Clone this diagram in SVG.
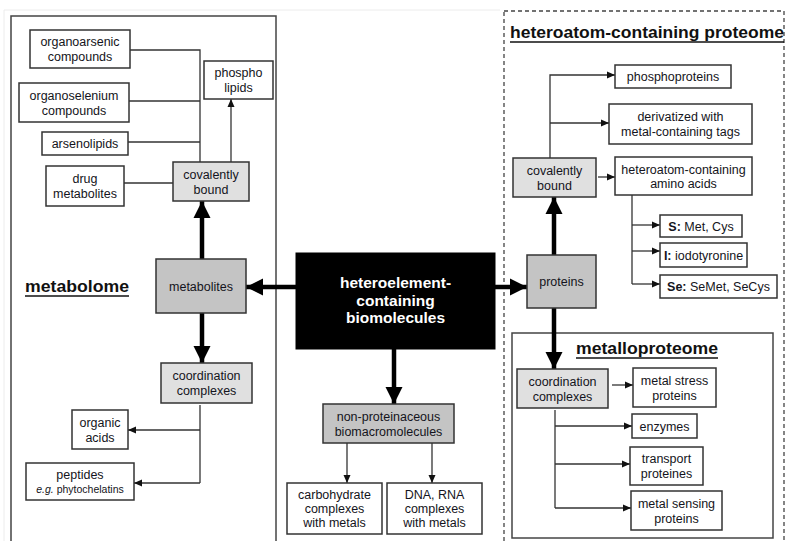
<svg xmlns="http://www.w3.org/2000/svg" width="788" height="541" viewBox="0 0 788 541">
  <defs>
    <marker id="thin" markerUnits="userSpaceOnUse" markerWidth="9" markerHeight="8" refX="8" refY="4" orient="auto">
      <path d="M0,0.5 L8,4 L0,7.5 z" fill="#111"/>
    </marker>
    <marker id="thick" markerUnits="userSpaceOnUse" markerWidth="18" markerHeight="18" refX="17" refY="9" orient="auto">
      <path d="M0,0.5 L17,9 L0,17.5 z" fill="#000"/>
    </marker>
    <style>
      .box { fill: #fff; stroke: #333; stroke-width: 1.5; }
      .light { fill: #e0e0e0; stroke: #333; stroke-width: 1.5; }
      .mid { fill: #c4c4c4; stroke: #333; stroke-width: 1.5; }
      .black { fill: #000; stroke: #000; }
      text { font-family: "Liberation Sans", Arial, sans-serif; font-size: 12.5px; fill: #141420; text-anchor: middle; }
      .big { font-size: 15.5px; font-weight: bold; fill: #fff; }
      .title { font-size: 17px; font-weight: bold; fill: #111; text-anchor: start; }
      .small { font-size: 10.5px; }
      .c { fill: none; stroke: #333; stroke-width: 1.3; }
      .ca { fill: none; stroke: #333; stroke-width: 1.3; marker-end: url(#thin); }
      .t { fill: none; stroke: #000; stroke-width: 4.5; marker-end: url(#thick); }
      .frame { fill: none; stroke: #444; stroke-width: 1.5; }
      .dash { fill: none; stroke: #444; stroke-width: 1.3; stroke-dasharray: 4 3; }
      .ul { stroke: #111; stroke-width: 1.5; }
    </style>
  </defs>

  <rect width="788" height="541" fill="#fff"/>
  <!-- faint outer border -->
  <path d="M4,541 V10 H500" fill="none" stroke="#ececec" stroke-width="1"/>

  <!-- region frames -->
  <g id="metabolome">
    <rect class="frame" x="11" y="16" width="265" height="540"/>
    <text class="title" x="25" y="292" textLength="104" lengthAdjust="spacingAndGlyphs">metabolome</text>
    <line class="ul" x1="25" y1="296" x2="129" y2="296"/>
  </g>
  <g id="proteome">
    <rect class="dash" x="504" y="11" width="280" height="545"/>
    <text class="title" x="510" y="38" textLength="274" lengthAdjust="spacingAndGlyphs">heteroatom-containing proteome</text>
    <line class="ul" x1="510" y1="42" x2="784" y2="42"/>
  </g>
  <g id="metalloproteome">
    <rect class="frame" x="512" y="333" width="261" height="205"/>
    <text class="title" x="576" y="354" textLength="142" lengthAdjust="spacingAndGlyphs">metalloproteome</text>
    <line class="ul" x1="576" y1="358" x2="718" y2="358"/>
  </g>

  <!-- connectors -->
  <g id="connectors">
    <!-- left: covalently bound branches -->
    <path class="c" d="M130,50 H200 V162"/>
    <path class="c" d="M129,101 H200"/>
    <path class="c" d="M128,142 H200"/>
    <path class="c" d="M124,183 H173"/>
    <path class="ca" d="M231,162 V99"/>
    <!-- left: metabolites -->
    <path class="t" d="M202,259 V201"/>
    <path class="t" d="M202,313 V363"/>
    <!-- left: coordination complexes branches -->
    <path class="c" d="M200,405 V483"/>
    <path class="ca" d="M200,430 H128"/>
    <path class="ca" d="M200,483 H134"/>
    <!-- centre -->
    <path class="t" d="M296,287 H246"/>
    <path class="t" d="M495,287 H527"/>
    <path class="t" d="M394,349 V404"/>
    <path class="ca" d="M347,443 V483"/>
    <path class="ca" d="M432,443 V483"/>
    <!-- right: covalently bound -->
    <path class="t" d="M554,255 V197"/>
    <path class="ca" d="M550,158 V75 H615"/>
    <path class="ca" d="M550,123 H609"/>
    <path class="ca" d="M598,177 H615"/>
    <path class="c" d="M632,195 V284"/>
    <path class="ca" d="M632,225 H660"/>
    <path class="ca" d="M632,251 H660"/>
    <path class="ca" d="M632,284 H660"/>
    <!-- right: coordination complexes -->
    <path class="t" d="M554,308 V369"/>
    <path class="ca" d="M612,385 H633"/>
    <path class="c" d="M555,410 V508"/>
    <path class="ca" d="M555,426 H632"/>
    <path class="ca" d="M555,464 H630"/>
    <path class="ca" d="M555,508 H631"/>
  </g>

  <!-- metabolome nodes -->
  <g id="organoarsenic">
    <rect class="box" x="30" y="30" width="100" height="38"/>
    <text x="80" y="46">organoarsenic</text>
    <text x="80" y="61">compounds</text>
  </g>
  <g id="organoselenium">
    <rect class="box" x="19" y="83" width="110" height="39"/>
    <text x="74" y="99.5">organoselenium</text>
    <text x="74" y="114.5">compounds</text>
  </g>
  <g id="arsenolipids">
    <rect class="box" x="42" y="132" width="86" height="23"/>
    <text x="85" y="148">arsenolipids</text>
  </g>
  <g id="drug-metabolites">
    <rect class="box" x="46" y="166" width="78" height="40"/>
    <text x="85" y="183">drug</text>
    <text x="85" y="198">metabolites</text>
  </g>
  <g id="phospholipids">
    <rect class="box" x="204" y="61" width="69" height="38"/>
    <text x="238.5" y="77">phospho</text>
    <text x="238.5" y="92">lipids</text>
  </g>
  <g id="covalent-left">
    <rect class="light" x="173" y="162" width="76" height="39"/>
    <text x="211" y="178.5">covalently</text>
    <text x="211" y="193.5">bound</text>
  </g>
  <g id="metabolites">
    <rect class="mid" x="156" y="259" width="90" height="54"/>
    <text x="201" y="290.5">metabolites</text>
  </g>
  <g id="coordination-left">
    <rect class="light" x="161" y="363" width="91" height="40"/>
    <text x="206.5" y="380">coordination</text>
    <text x="206.5" y="395">complexes</text>
  </g>
  <g id="organic-acids">
    <rect class="box" x="72" y="410" width="56" height="39"/>
    <text x="100" y="426.5">organic</text>
    <text x="100" y="441.5">acids</text>
  </g>
  <g id="peptides">
    <rect class="box" x="26" y="463" width="108" height="37"/>
    <text x="80" y="479">peptides</text>
    <text class="small" x="80" y="493"><tspan font-style="italic">e.g.</tspan> phytochelatins</text>
  </g>

  <!-- central nodes -->
  <g id="biomolecules">
    <rect class="black" x="296" y="253" width="199" height="96"/>
    <text class="big" x="395.5" y="288">heteroelement-</text>
    <text class="big" x="395.5" y="306">containing</text>
    <text class="big" x="395.5" y="323">biomolecules</text>
  </g>
  <g id="non-proteinaceous">
    <rect class="mid" x="323" y="404" width="131" height="39"/>
    <text x="388.5" y="420.5">non-proteinaceous</text>
    <text x="388.5" y="435.5">biomacromolecules</text>
  </g>
  <g id="carbohydrate">
    <rect class="box" x="287" y="483" width="95" height="51"/>
    <text x="334.5" y="499">carbohydrate</text>
    <text x="334.5" y="513">complexes</text>
    <text x="334.5" y="527">with metals</text>
  </g>
  <g id="dna-rna">
    <rect class="box" x="387" y="483" width="95" height="51"/>
    <text x="434.5" y="499">DNA, RNA</text>
    <text x="434.5" y="513">complexes</text>
    <text x="434.5" y="527">with metals</text>
  </g>

  <!-- proteome nodes -->
  <g id="proteins">
    <rect class="mid" x="527" y="255" width="69" height="53"/>
    <text x="561.5" y="286">proteins</text>
  </g>
  <g id="covalent-right">
    <rect class="light" x="513" y="158" width="83" height="39"/>
    <text x="554.5" y="174.5">covalently</text>
    <text x="554.5" y="189.5">bound</text>
  </g>
  <g id="phosphoproteins">
    <rect class="box" x="615" y="65" width="116" height="23"/>
    <text x="673" y="81">phosphoproteins</text>
  </g>
  <g id="derivatized">
    <rect class="box" x="609" y="104" width="143" height="40"/>
    <text x="680.5" y="121">derivatized with</text>
    <text x="680.5" y="136">metal-containing tags</text>
  </g>
  <g id="amino-acids">
    <rect class="box" x="615" y="157" width="137" height="38"/>
    <text x="683.5" y="174">heteroatom-containing</text>
    <text x="683.5" y="188">amino acids</text>
  </g>
  <g id="sulfur">
    <rect class="box" x="660" y="215" width="82" height="22"/>
    <text x="701" y="230.5"><tspan font-weight="bold">S:</tspan> Met, Cys</text>
  </g>
  <g id="iodine">
    <rect class="box" x="660" y="243" width="87" height="24"/>
    <text x="703.5" y="259.5"><tspan font-weight="bold">I:</tspan> iodotyronine</text>
  </g>
  <g id="selenium">
    <rect class="box" x="660" y="275" width="117" height="23"/>
    <text x="718.5" y="291"><tspan font-weight="bold">Se:</tspan> SeMet, SeCys</text>
  </g>

  <!-- metalloproteome nodes -->
  <g id="coordination-right">
    <rect class="light" x="517" y="369" width="91" height="39"/>
    <text x="562.5" y="385.5">coordination</text>
    <text x="562.5" y="400.5">complexes</text>
  </g>
  <g id="metal-stress">
    <rect class="box" x="633" y="368" width="83" height="39"/>
    <text x="674.5" y="384.5">metal stress</text>
    <text x="674.5" y="399.5">proteins</text>
  </g>
  <g id="enzymes">
    <rect class="box" x="632" y="414" width="65" height="24"/>
    <text x="664.5" y="430.5">enzymes</text>
  </g>
  <g id="transport">
    <rect class="box" x="630" y="447" width="73" height="38"/>
    <text x="666.5" y="463">transport</text>
    <text x="666.5" y="478">proteines</text>
  </g>
  <g id="metal-sensing">
    <rect class="box" x="631" y="491" width="91" height="39"/>
    <text x="676.5" y="507.5">metal sensing</text>
    <text x="676.5" y="522.5">proteins</text>
  </g>
</svg>
